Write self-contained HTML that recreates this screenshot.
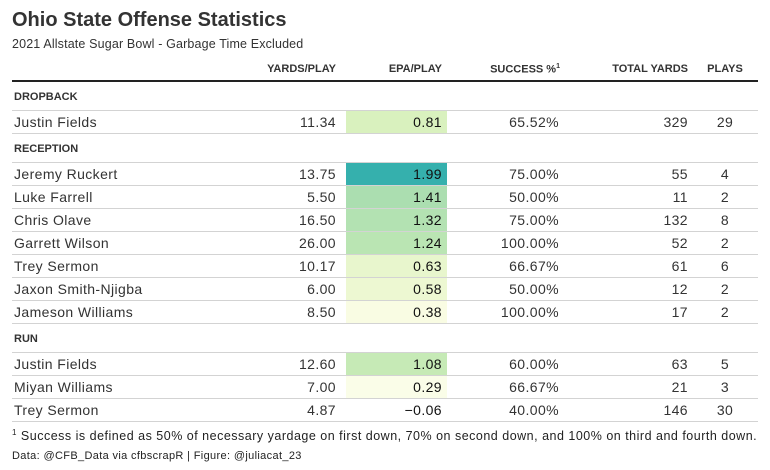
<!DOCTYPE html>
<html><head><meta charset="utf-8"><style>
body{margin:0;width:770px;height:470px;background:#fff;font-family:"Liberation Sans",sans-serif;color:#222;position:relative;overflow:hidden}
.t{position:absolute;white-space:nowrap}
#title{left:12px;top:9px;font-size:20px;font-weight:bold;color:#333}
#sub{left:12px;top:37px;font-size:12.5px;color:#333;letter-spacing:0.15px}
.hd{position:absolute;top:63px;font-size:11px;font-weight:bold;color:#333}
.line{position:absolute;left:12px;width:746px;height:1px;background:#d3d3d3}
.grp{position:absolute;left:14px;font-size:11px;font-weight:bold;color:#333}
.cell{position:absolute;font-size:14px;height:23px;line-height:23px;color:#333;letter-spacing:0.4px}
.r{text-align:right}
</style></head><body>
<div class="t" id="title">Ohio State Offense Statistics</div>
<div class="t" id="sub">2021 Allstate Sugar Bowl - Garbage Time Excluded</div>
<div class="hd" style="left:260px;width:76px;text-align:right">YARDS/PLAY</div>
<div class="hd" style="left:360px;width:82px;text-align:right">EPA/PLAY</div>
<div class="hd" style="left:470px;width:90px;text-align:right">SUCCESS %<sup style="font-size:7px">1</sup></div>
<div class="hd" style="left:590px;width:98px;text-align:right">TOTAL YARDS</div>
<div class="hd" style="left:700px;width:50px;text-align:center">PLAYS</div>
<div style="position:absolute;left:12px;top:80px;width:746px;height:2px;background:#222"></div>
<div id="tbl"></div>
<div class="t" style="left:12px;top:428px;font-size:12.5px;color:#222;letter-spacing:0.5px"><sup style="font-size:8px">1</sup> Success is defined as 50% of necessary yardage on first down, 70% on second down, and 100% on third and fourth down.</div>
<div class="t" style="left:12px;top:450px;font-size:11px;color:#222;letter-spacing:0.35px">Data: @CFB_Data via cfbscrapR | Figure: @juliacat_23</div>
<script>
const groups=["DROPBACK","RECEPTION","RUN"];
const groupOf=[0,1,1,1,1,1,1,1,2,2,2];
const players=["Justin Fields","Jeremy Ruckert","Luke Farrell","Chris Olave","Garrett Wilson","Trey Sermon","Jaxon Smith-Njigba","Jameson Williams","Justin Fields","Miyan Williams","Trey Sermon"];
const yardsPerPlay=[11.34,13.75,5.50,16.50,26.00,10.17,6.00,8.50,12.60,7.00,4.87];
const epaPerPlay=[0.81,1.99,1.41,1.32,1.24,0.63,0.58,0.38,1.08,0.29,-0.06];
const successPct=[65.52,75.00,50.00,75.00,100.00,66.67,50.00,100.00,60.00,66.67,40.00];
const totalYards=[329,55,11,132,52,61,12,17,63,21,146];
const plays=[29,4,2,8,2,6,2,2,5,3,30];
const stops=[[0,[255,255,255]],[0.25,[248,252,222]],[0.35,[230,245,202]],[0.45,[212,239,186]],[0.6,[192,232,180]],[0.72,[170,222,176]],[0.8,[155,216,176]],[1,[53,176,173]]];
function col(v){const mn=Math.min(...epaPerPlay),mx=Math.max(...epaPerPlay);const t=(v-mn)/(mx-mn);
for(let i=1;i<stops.length;i++){if(t<=stops[i][0]){const a=stops[i-1],b=stops[i];const f=(t-a[0])/(b[0]-a[0]);
return 'rgb('+a[1].map((c,k)=>Math.round(c+(b[1][k]-c)*f)).join(',')+')';}}return 'rgb(53,176,173)';}
const tbl=document.getElementById('tbl');
function add(html,style,cls){const d=document.createElement('div');d.className=cls||'cell';d.style.cssText=style;d.textContent=html;tbl.appendChild(d);return d;}
let y=81,last=-1;
players.forEach((p,i)=>{
 if(groupOf[i]!==last){last=groupOf[i];
  const g=add(groups[last],'top:'+(y+10)+'px','grp');
  
  
  y+=29;const l=add('','top:'+y+'px','line');
  
  }
 const top=y+1;
 const bg=add('','position:absolute;left:346px;width:101px;height:23px;top:'+top+'px;background:'+col(epaPerPlay[i]),'cell');
 
 
 const n=add(p,'left:14px;top:'+top+'px');
 
 
 const a=add(yardsPerPlay[i].toFixed(2),'left:250px;width:86px;top:'+top+'px','cell r');
 
 
 const e=add(epaPerPlay[i]<0?'\u2212'+Math.abs(epaPerPlay[i]).toFixed(2):epaPerPlay[i].toFixed(2),'left:350px;width:92px;top:'+top+'px;color:#111','cell r');
 
 
 const s=add(successPct[i].toFixed(2)+'%','left:460px;width:99px;top:'+top+'px','cell r');
 
 
 const ty=add(String(totalYards[i]),'left:600px;width:88px;top:'+top+'px','cell r');
 
 
 const pl=add(String(plays[i]),'left:700px;width:50px;top:'+top+'px;text-align:center','cell');
 
 
 y+=23;const l=add('','top:'+y+'px','line');
 
 
});
</script>
</body></html>
